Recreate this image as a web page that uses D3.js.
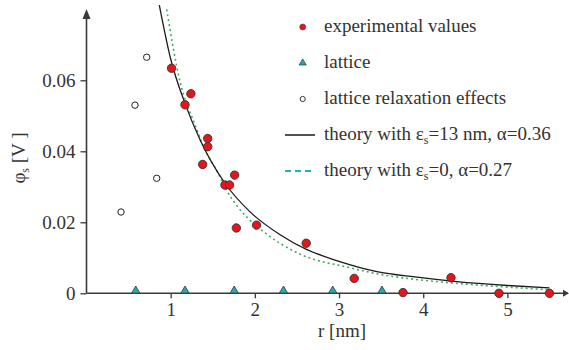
<!DOCTYPE html>
<html>
<head>
<meta charset="utf-8">
<script src="https://cdn.jsdelivr.net/npm/d3@7"></script>
<style>
  body { margin: 0; background: #fff; }
  svg text { font-family: "Liberation Serif", "Times New Roman", "DejaVu Serif", serif; fill: #333; }
</style>
</head>
<body>
<svg id="chart" width="569" height="350"></svg>
<script>
// experimental values (r in nm, phi_s in V)
const expR = [1.01, 1.17, 1.24, 1.38, 1.44, 1.44, 1.645, 1.70, 1.76, 1.78, 2.02, 2.61, 3.18, 3.76, 4.33, 4.90, 5.50];
const expPhi = [0.0634, 0.0531, 0.0562, 0.0363, 0.0413, 0.0436, 0.0305, 0.0305, 0.0333, 0.0184, 0.0192, 0.0141, 0.0042, 0.0002, 0.0044, 0.0000, 0.0000];

// lattice sites on the axis
const latticeR = [0.585, 1.17, 1.755, 2.34, 2.925, 3.51];

// lattice relaxation effects
const relaxR = [0.41, 0.576, 0.715, 0.834];
const relaxPhi = [0.0229, 0.053, 0.0665, 0.0324];

// theory, eps_s = 13 nm, alpha = 0.36
const theoryAR = [0.865, 1.0, 1.17, 1.35, 1.645, 1.94, 2.3, 2.6, 3.0, 3.45, 3.9, 4.4, 5.0, 5.5];
const theoryAPhi = [0.0812, 0.0660, 0.0535, 0.0432, 0.0310, 0.0230, 0.0165, 0.0125, 0.0090, 0.0061, 0.0046, 0.0033, 0.0022, 0.0015];

// theory, eps_s = 0, alpha = 0.27
const theoryBR = [0.952, 1.11, 1.29, 1.39, 1.565, 1.665, 1.92, 2.1, 2.54, 3.13, 3.45, 3.88, 4.3, 4.9, 5.5];
const theoryBPhi = [0.0800, 0.0597, 0.0474, 0.0413, 0.0338, 0.0290, 0.0211, 0.0174, 0.0110, 0.0072, 0.0055, 0.0040, 0.0030, 0.0019, 0.0010];

const xTicks = [1, 2, 3, 4, 5];
const yTicks = [0, 0.02, 0.04, 0.06];

const legendLabels = ["experimental values", "lattice", "lattice relaxation effects"];

const svg = d3.select("#chart");
const axisColor = "#3a3a3a";
const serif = '"Liberation Serif", "Times New Roman", serif';

const x = d3.scaleLinear().domain([0, 5.72]).range([86.5, 568]);
const y = d3.scaleLinear().domain([0, 0.08]).range([293.3, 9.3]);

// x axis
const xAxis = svg.append("g")
  .attr("transform", `translate(0,${y(0)})`)
  .call(d3.axisBottom(x).tickValues(xTicks).tickSize(5).tickFormat(d3.format("d")));
xAxis.select(".domain").attr("d", `M${x(0)},0H${x.range()[1]}`);

// y axis
const yAxis = svg.append("g")
  .attr("transform", `translate(${x(0)},0)`)
  .call(d3.axisLeft(y).tickValues(yTicks).tickSize(6).tickPadding(5)
    .tickFormat(d => d === 0 ? "0" : d3.format(".2f")(d)));
yAxis.select(".domain").attr("d", `M0,${y(0)}V12`);

[xAxis, yAxis].forEach(g => {
  g.attr("font-family", serif);
  g.selectAll(".domain").attr("stroke", axisColor).attr("stroke-width", 1.6);
  g.selectAll(".tick line").attr("stroke", axisColor).attr("stroke-width", 1.3);
  g.selectAll(".tick text").attr("font-size", 19).attr("fill", "#333");
});
xAxis.selectAll(".tick text").attr("dy", "0.75em").attr("y", 8);

// arrow heads
svg.append("path").attr("d", `M${x(0)},9L${x(0) - 4},19L${x(0) + 4},19Z`).attr("fill", axisColor);
svg.append("path").attr("d", `M569,${y(0)}L563,${y(0) - 3.5}L563,${y(0) + 3.5}Z`).attr("fill", axisColor);

// axis titles
svg.append("text")
  .attr("transform", "translate(25,158) rotate(-90)")
  .attr("text-anchor", "middle")
  .attr("font-family", serif)
  .attr("font-size", 19)
  .html('φ<tspan font-size="12" dy="4">s</tspan><tspan dy="-4"> [V ]</tspan>');
svg.append("text")
  .attr("x", 342).attr("y", 337)
  .attr("text-anchor", "middle")
  .attr("font-family", serif)
  .attr("font-size", 19)
  .text("r [nm]");

// theory curves
const line = d3.line().x(d => x(d[0])).y(d => y(d[1])).curve(d3.curveMonotoneX);
svg.append("path")
  .datum(d3.zip(theoryBR, theoryBPhi))
  .attr("d", line)
  .attr("fill", "none")
  .attr("stroke", "#3fab68")
  .attr("stroke-width", 1.6)
  .attr("stroke-dasharray", "2,3");
svg.append("path")
  .datum(d3.zip(theoryAR, theoryAPhi))
  .attr("d", line)
  .attr("fill", "none")
  .attr("stroke", "#1a1a1a")
  .attr("stroke-width", 1.3);

// lattice triangles
const tri = d3.symbol().type(d3.symbolTriangle).size(30);
svg.append("g").selectAll("path")
  .data(latticeR)
  .join("path")
  .attr("transform", d => `translate(${x(d)},${y(0) - 2.5})`)
  .attr("d", tri)
  .attr("fill", "#2aa7b3")
  .attr("stroke", "#333")
  .attr("stroke-width", 0.8);

// relaxation open circles
svg.append("g").selectAll("circle")
  .data(d3.zip(relaxR, relaxPhi))
  .join("circle")
  .attr("cx", d => x(d[0]))
  .attr("cy", d => y(d[1]))
  .attr("r", 3.2)
  .attr("fill", "#fff")
  .attr("stroke", "#222")
  .attr("stroke-width", 1);

// experimental red points
svg.append("g").selectAll("circle")
  .data(d3.zip(expR, expPhi))
  .join("circle")
  .attr("cx", d => x(d[0]))
  .attr("cy", d => y(d[1]))
  .attr("r", 4.2)
  .attr("fill", "#e8141c")
  .attr("stroke", "#333")
  .attr("stroke-width", 0.9);

// legend
const lg = svg.append("g").attr("font-family", serif).attr("font-size", 19);
const rowY = [27, 63, 99, 135, 171];
const symX = 302.7, textX = 324;
lg.append("circle").attr("cx", symX).attr("cy", rowY[0]).attr("r", 3).attr("fill", "#e8141c").attr("stroke", "#444").attr("stroke-width", 0.6);
lg.append("path").attr("transform", `translate(${symX},${rowY[1]})`)
  .attr("d", d3.symbol().type(d3.symbolTriangle).size(22)).attr("fill", "#2aa7b3").attr("stroke", "#333").attr("stroke-width", 0.7);
lg.append("circle").attr("cx", symX).attr("cy", rowY[2]).attr("r", 2.6).attr("fill", "#fff").attr("stroke", "#222").attr("stroke-width", 0.9);
lg.append("line").attr("x1", 285).attr("x2", 315).attr("y1", rowY[3]).attr("y2", rowY[3]).attr("stroke", "#1a1a1a").attr("stroke-width", 1.5);
lg.append("line").attr("x1", 285).attr("x2", 315).attr("y1", rowY[4]).attr("y2", rowY[4]).attr("stroke", "#22b0b3").attr("stroke-width", 2.2).attr("stroke-dasharray", "6,4");

legendLabels.forEach((t, i) => {
  lg.append("text").attr("x", textX).attr("y", rowY[i] + 5).text(t);
});
lg.append("text").attr("x", textX).attr("y", rowY[3] + 5)
  .html('theory with ε<tspan font-size="12" dy="4">s</tspan><tspan dy="-4">=13 nm, α=0.36</tspan>');
lg.append("text").attr("x", textX).attr("y", rowY[4] + 5)
  .html('theory with ε<tspan font-size="12" dy="4">s</tspan><tspan dy="-4">=0, α=0.27</tspan>');
</script>
</body>
</html>
